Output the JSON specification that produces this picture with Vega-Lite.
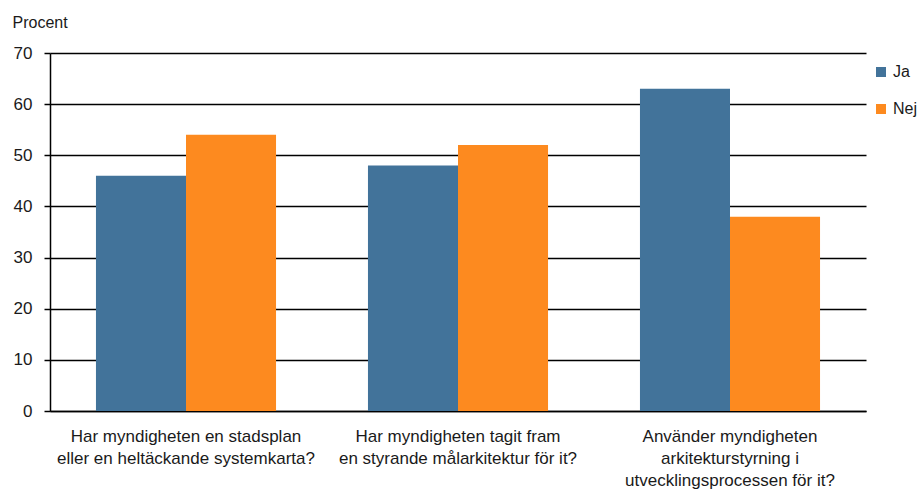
{
  "$schema": "https://vega.github.io/schema/vega-lite/v6.json",
  "autosize": {"type": "none"},
  "width": 816,
  "height": 358,
  "padding": {"left": 50, "top": 53, "right": 56, "bottom": 82},
  "background": "white",
  "data": {
    "values": [
      {"fraga": "Har myndigheten en stadsplan|eller en heltäckande systemkarta?", "svar": "Ja", "procent": 46},
      {"fraga": "Har myndigheten en stadsplan|eller en heltäckande systemkarta?", "svar": "Nej", "procent": 54},
      {"fraga": "Har myndigheten tagit fram|en styrande målarkitektur för it?", "svar": "Ja", "procent": 48},
      {"fraga": "Har myndigheten tagit fram|en styrande målarkitektur för it?", "svar": "Nej", "procent": 52},
      {"fraga": "Använder myndigheten|arkitekturstyrning i|utvecklingsprocessen för it?", "svar": "Ja", "procent": 63},
      {"fraga": "Använder myndigheten|arkitekturstyrning i|utvecklingsprocessen för it?", "svar": "Nej", "procent": 38}
    ]
  },
  "mark": {"type": "bar"},
  "encoding": {
    "x": {
      "field": "fraga",
      "type": "nominal",
      "sort": null,
      "scale": {"paddingInner": 0.338, "paddingOuter": 0.169},
      "axis": {
        "title": null,
        "labelAngle": 0,
        "labelExpr": "split(datum.value, '|')",
        "labelFont": "Liberation Sans",
        "labelFontSize": 17,
        "labelColor": "#1a1a1a",
        "labelLineHeight": 22,
        "labelPadding": 17,
        "ticks": false,
        "domainColor": "#000000",
        "domainWidth": 1.5,
        "labelLimit": 400
      }
    },
    "xOffset": {"field": "svar", "type": "nominal", "scale": {"paddingInner": 0, "paddingOuter": 0}},
    "y": {
      "field": "procent",
      "type": "quantitative",
      "scale": {"domain": [0, 70]},
      "axis": {
        "title": "Procent",
        "titleAngle": 0,
        "titleAlign": "left",
        "titleBaseline": "middle",
        "titleX": -38,
        "titleY": -31,
        "titleFont": "Liberation Sans",
        "titleFontSize": 16,
        "titleFontWeight": "normal",
        "titleColor": "#1a1a1a",
        "values": [0, 10, 20, 30, 40, 50, 60, 70],
        "labelFont": "Liberation Sans",
        "labelFontSize": 17,
        "labelColor": "#1a1a1a",
        "labelPadding": 12,
        "tickSize": 6,
        "tickColor": "#000000",
        "tickWidth": 1.5,
        "domainColor": "#000000",
        "domainWidth": 1.5,
        "grid": true,
        "gridColor": "#000000",
        "gridWidth": 1.5
      }
    },
    "color": {
      "field": "svar",
      "type": "nominal",
      "scale": {"domain": ["Ja", "Nej"], "range": ["#42739A", "#FD8A1F"]},
      "legend": {
        "title": null,
        "orient": "none",
        "legendX": 823,
        "legendY": 11,
        "symbolType": "square",
        "symbolSize": 100,
        "symbolStrokeWidth": 0,
        "labelFont": "Liberation Sans",
        "labelFontSize": 16,
        "labelColor": "#1a1a1a",
        "rowPadding": 21,
        "labelOffset": 4
      }
    }
  },
  "config": {
    "view": {"stroke": null}
  }
}
